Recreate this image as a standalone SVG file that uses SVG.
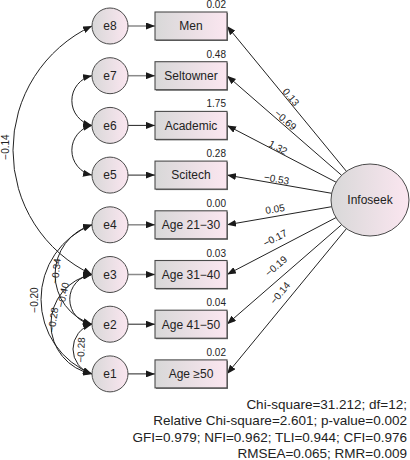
<svg xmlns="http://www.w3.org/2000/svg" width="410" height="460" viewBox="0 0 410 460">
<defs>
<linearGradient id="g" x1="0" y1="0" x2="1" y2="0"><stop offset="0" stop-color="#d8d8d8"/><stop offset="1" stop-color="#fbe6f0"/></linearGradient>
<marker id="ah" viewBox="0 0 9 7" refX="9" refY="3.5" markerWidth="9" markerHeight="7" markerUnits="userSpaceOnUse" orient="auto-start-reverse"><path d="M0,0 L9,3.5 L0,7 Z" fill="#1a1a1a"/></marker>
</defs>
<style>
text{font-family:"Liberation Sans",Arial,sans-serif;fill:#222}
.lab{font-size:12px;text-anchor:middle}
.num{font-size:10px;text-anchor:end}
.coef{font-size:10px;text-anchor:middle}
.box{fill:url(#g);stroke:#4a4a4a;stroke-width:1.1}
.sh{fill:#6a6a6a}
.err{fill:url(#g);stroke:#4a4a4a;stroke-width:1}
.p{fill:none;stroke:#222;stroke-width:1;marker-end:url(#ah)}
.gp{stroke:#8a8a8a;stroke-width:1.5}
.cov{fill:none;stroke:#222;stroke-width:1;marker-start:url(#ah);marker-end:url(#ah)}
.stat{font-size:13.5px;text-anchor:end}
</style>

<g id="connectors">
<path class="p gp" d="M128,26 L155,26"/>
<path class="p gp" d="M128,75.7 L155,75.7"/>
<path class="p" d="M128,125.4 L155,125.4"/>
<path class="p" d="M128,175.1 L155,175.1"/>
<path class="p gp" d="M128,224.8 L155,224.8"/>
<path class="p gp" d="M128,274.5 L155,274.5"/>
<path class="p" d="M128,324.2 L155,324.2"/>
<path class="p" d="M128,373.9 L155,373.9"/>

<path class="p" d="M346.4,171.3 L227,26"/>
<path class="p" d="M341.6,175.3 L227,75.7"/>
<path class="p" d="M336.1,182.2 L227,125.4"/>
<path class="p" d="M331.7,193.3 L227,175.1"/>
<path class="p" d="M331.7,206.7 L227,224.8"/>
<path class="p" d="M336.0,217.6 L227,274.5"/>
<path class="p" d="M341.6,224.7 L227,324.2"/>
<path class="p" d="M346.4,228.7 L227,373.9"/>

<path class="cov" d="M92,26 A137.2,137.2 0 0 0 92,274.5"/>
<path class="cov" d="M92,75.7 A25.4,25.4 0 0 0 92,125.4"/>
<path class="cov" d="M92,125.4 A25.4,25.4 0 0 0 92,175.1"/>
<path class="cov" d="M92,224.8 A80,80 0 0 0 92,373.9"/>
<path class="cov" d="M92,224.8 A51.9,51.9 0 0 0 92,324.2"/>
<path class="cov" d="M92,274.5 A50.6,50.6 0 0 0 92,373.9"/>
<path class="cov" d="M92,274.5 A25,25 0 0 0 92,324.2"/>
<path class="cov" d="M92,324.2 A25.75,25.75 0 0 0 92,373.9"/>

<text class="coef" transform="translate(291,97) rotate(50.6)" y="3.5">0.13</text>
<text class="coef" transform="translate(285.5,120) rotate(41)" y="3.5">−0.69</text>
<text class="coef" transform="translate(278,147.5) rotate(27.7)" y="3.5">1.32</text>
<text class="coef" transform="translate(276.5,179) rotate(9.9)" y="3.5">−0.53</text>
<text class="coef" transform="translate(275,209) rotate(-9.9)" y="3.5">0.05</text>
<text class="coef" transform="translate(275,238) rotate(-27.5)" y="3.5">−0.17</text>
<text class="coef" transform="translate(276,266) rotate(-41)" y="3.5">−0.19</text>
<text class="coef" transform="translate(280,293) rotate(-50.6)" y="3.5">−0.14</text>

<text class="coef" transform="translate(5,147) rotate(-90)" y="3.5">−0.14</text>
<text class="coef" transform="translate(34,300) rotate(-90)" y="3.5">−0.20</text>
<text class="coef" transform="translate(56,271) rotate(-84)" y="3.5">−0.34</text>
<text class="coef" transform="translate(63,295) rotate(-78)" y="3.5">−0.40</text>
<text class="coef" transform="translate(53,320) rotate(-82)" y="3.5">−0.28</text>
<text class="coef" transform="translate(81,350) rotate(-88)" y="3.5">−0.28</text>
</g>

<g id="e8"><circle class="err" cx="110" cy="26" r="18"/><text class="lab" x="110" y="30.3">e8</text></g>
<g id="e7"><circle class="err" cx="110" cy="75.7" r="18"/><text class="lab" x="110" y="80">e7</text></g>
<g id="e6"><circle class="err" cx="110" cy="125.4" r="18"/><text class="lab" x="110" y="129.7">e6</text></g>
<g id="e5"><circle class="err" cx="110" cy="175.1" r="18"/><text class="lab" x="110" y="179.4">e5</text></g>
<g id="e4"><circle class="err" cx="110" cy="224.8" r="18"/><text class="lab" x="110" y="229.1">e4</text></g>
<g id="e3"><circle class="err" cx="110" cy="274.5" r="18"/><text class="lab" x="110" y="278.8">e3</text></g>
<g id="e2"><circle class="err" cx="110" cy="324.2" r="18"/><text class="lab" x="110" y="328.5">e2</text></g>
<g id="e1"><circle class="err" cx="110" cy="373.9" r="18"/><text class="lab" x="110" y="378.2">e1</text></g>

<g id="men"><rect class="sh" x="156" y="13" width="72" height="28"/><rect class="box" x="155" y="12" width="72" height="28"/><text class="lab" x="191" y="30.3">Men</text><text class="num" x="226" y="8">0.02</text></g>
<g id="seltowner"><rect class="sh" x="156" y="62.7" width="72" height="28"/><rect class="box" x="155" y="61.7" width="72" height="28"/><text class="lab" x="191" y="80">Seltowner</text><text class="num" x="226" y="57.7">0.48</text></g>
<g id="academic"><rect class="sh" x="156" y="112.4" width="72" height="28"/><rect class="box" x="155" y="111.4" width="72" height="28"/><text class="lab" x="191" y="129.7">Academic</text><text class="num" x="226" y="107.4">1.75</text></g>
<g id="scitech"><rect class="sh" x="156" y="162.1" width="72" height="28"/><rect class="box" x="155" y="161.1" width="72" height="28"/><text class="lab" x="191" y="179.4">Scitech</text><text class="num" x="226" y="157.1">0.28</text></g>
<g id="age21"><rect class="sh" x="156" y="211.8" width="72" height="28"/><rect class="box" x="155" y="210.8" width="72" height="28"/><text class="lab" x="191" y="229.1">Age 21−30</text><text class="num" x="226" y="206.8">0.00</text></g>
<g id="age31"><rect class="sh" x="156" y="261.5" width="72" height="28"/><rect class="box" x="155" y="260.5" width="72" height="28"/><text class="lab" x="191" y="278.8">Age 31−40</text><text class="num" x="226" y="256.5">0.03</text></g>
<g id="age41"><rect class="sh" x="156" y="311.2" width="72" height="28"/><rect class="box" x="155" y="310.2" width="72" height="28"/><text class="lab" x="191" y="328.5">Age 41−50</text><text class="num" x="226" y="306.2">0.04</text></g>
<g id="age50"><rect class="sh" x="156" y="360.9" width="72" height="28"/><rect class="box" x="155" y="359.9" width="72" height="28"/><text class="lab" x="191" y="378.2">Age ≥50</text><text class="num" x="226" y="355.9">0.02</text></g>

<g id="infoseek"><ellipse class="err" cx="370" cy="200" rx="39" ry="36"/><text class="lab" x="370" y="204.3">Infoseek</text></g>

<g id="fit">
<text class="stat" x="407" y="408.5">Chi-square=31.212; df=12;</text>
<text class="stat" x="407" y="425">Relative Chi-square=2.601; p-value=0.002</text>
<text class="stat" x="407" y="441.5">GFI=0.979; NFI=0.962; TLI=0.944; CFI=0.976</text>
<text class="stat" x="407" y="458">RMSEA=0.065; RMR=0.009</text>
</g>
</svg>
